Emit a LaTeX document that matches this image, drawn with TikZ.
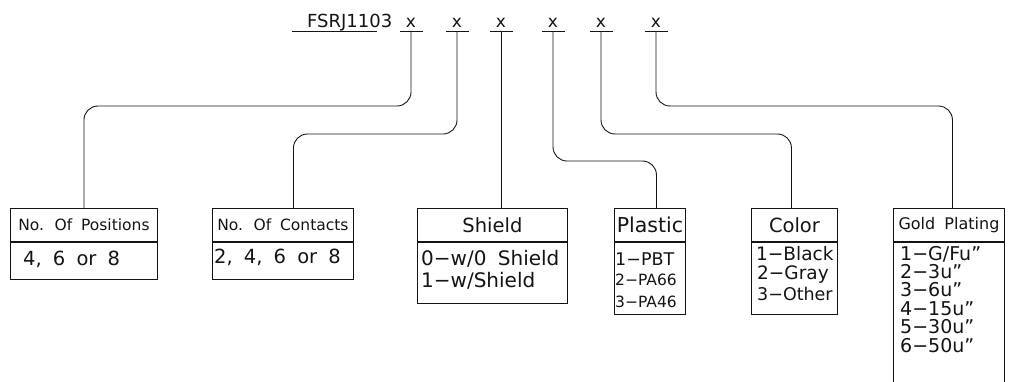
\documentclass[tikz,border=0pt]{standalone}
\usepackage{fontspec}
\setmainfont{DejaVu Sans}[WordSpace=1.8]
\usepackage{tikz}
\usetikzlibrary{positioning, calc}
\definecolor{mydark}{RGB}{20,20,20}
\newcommand{\setsz}[1]{\fontsize{#1}{#1}\selectfont}
\tikzset{
  hdrbox/.style={rectangle, draw=mydark, inner sep=0pt, line width=0.9pt,
    anchor=north west, minimum height=33pt, text=mydark},
  bodybox/.style={rectangle, draw=mydark, inner sep=0pt, line width=0.9pt,
    anchor=north},
  item/.style={inner sep=0pt, anchor=base west, text=mydark},
  xmark/.style={inner xsep=0pt, inner ysep=3.5pt, anchor=south,
    font=\setsz{17}, text=mydark},
  line/.style={line width=0.9pt, color=mydark},
  conn/.style={line width=0.9pt, color=mydark, rounded corners=14pt}
}
\begin{document}
\begin{tikzpicture}[x=1pt, y=-1pt]
  \useasboundingbox (0,0) rectangle (1012,381);

  % Part number and option places
  \node[item, font=\setsz{18}] (pn) at (307,27) {FSRJ1103};
  \draw[line] (292,31.5) -- (377,31.5);
  \node[xmark] (x1) at (411,31.5) {x};
  \node[xmark] (x2) at (457,31.5) {x};
  \node[xmark] (x3) at (501,31.5) {x};
  \node[xmark] (x4) at (553,31.5) {x};
  \node[xmark] (x5) at (601,31.5) {x};
  \node[xmark] (x6) at (656,31.5) {x};
  \foreach \m in {x1,x2,x3,x4,x5,x6}
    \draw[line] ([xshift=-11.5pt]\m.south) -- ([xshift=11.5pt]\m.south);

  % Positions
  \node[hdrbox, minimum width=147pt, font=\setsz{15.5}] (posh) at (10,208) {No. Of Positions};
  \node[bodybox, minimum width=147pt, minimum height=37pt] (posb) at (posh.south) {};
  \node[item, font=\setsz{19.5}] (posv) at (23,265) {4, 6 or 8};

  % Contacts
  \node[hdrbox, minimum width=141pt, font=\setsz{15.5}] (cnth) at (212,208) {No. Of Contacts};
  \node[bodybox, minimum width=141pt, minimum height=37pt] (cntb) at (cnth.south) {};
  \node[item, font=\setsz{19.5}] (cntv) at (214,263) {2, 4, 6 or 8};

  % Shield
  \node[hdrbox, minimum width=150pt, font=\setsz{19.5}] (shh) at (417,208) {Shield};
  \node[bodybox, minimum width=150pt, minimum height=61pt] (shb) at (shh.south) {};
  \node[item, font=\setsz{20}] (sh1) at (421,265) {0−w/0 Shield};
  \node[item, font=\setsz{20}] (sh2) at (421,287) {1−w/Shield};

  % Plastic
  \node[hdrbox, minimum width=71pt, font=\setsz{20.5}] (plh) at (614,208) {Plastic};
  \node[bodybox, minimum width=71pt, minimum height=72pt] (plb) at (plh.south) {};
  \node[item, font=\setsz{17.5}] (pl1) at (615,265) {1−PBT};
  \node[item, font=\setsz{15.5}] (pl2) at (615,285) {2−PA66};
  \node[item, font=\setsz{15.5}] (pl3) at (615,307) {3−PA46};

  % Color
  \node[hdrbox, minimum width=86pt, font=\setsz{19.5}] (coh) at (751,208) {Color};
  \node[bodybox, minimum width=86pt, minimum height=72pt] (cob) at (coh.south) {};
  \node[item, font=\setsz{18.5}] (co1) at (756,260) {1−Black};
  \node[item, font=\setsz{18.5}] (co2) at (757,279) {2−Gray};
  \node[item, font=\setsz{17.5}] (co3) at (757,300) {3−Other};

  % Gold plating
  \node[hdrbox, minimum width=111pt, font=\setsz{16}] (gdh) at (893,208) {Gold Plating};
  \node[bodybox, minimum width=111pt, minimum height=143pt] (gdb) at (gdh.south) {};
  \foreach \t [count=\i] in {1−G/Fu”, 2−3u”, 3−6u”, 4−15u”, 5−30u”, 6−50u”}
    \node[item, font=\setsz{19}] (g\i) at (900,{241.6+18.4*\i}) {\t};

  % Connectors
  \coordinate (a2) at ([xshift=10.5pt]cnth.north);
  \coordinate (a4) at ([xshift=6.5pt]plh.north);
  \coordinate (a5) at ([xshift=-3pt]coh.north);
  \coordinate (a6) at ([xshift=3.5pt]gdh.north);
  \draw[conn] (x1.south) |- (posh.north |- 0,106) -- (posh.north);
  \draw[conn] (x2.south) |- (a2 |- 0,134) -- (a2);
  \draw[conn] (x3.south) -- (x3.south |- shh.north);
  \draw[conn] (x4.south) |- (a4 |- 0,161) -- (a4);
  \draw[conn] (x5.south) |- (a5 |- 0,134) -- (a5);
  \draw[conn] (x6.south) |- (a6 |- 0,106) -- (a6);
\end{tikzpicture}
\end{document}
